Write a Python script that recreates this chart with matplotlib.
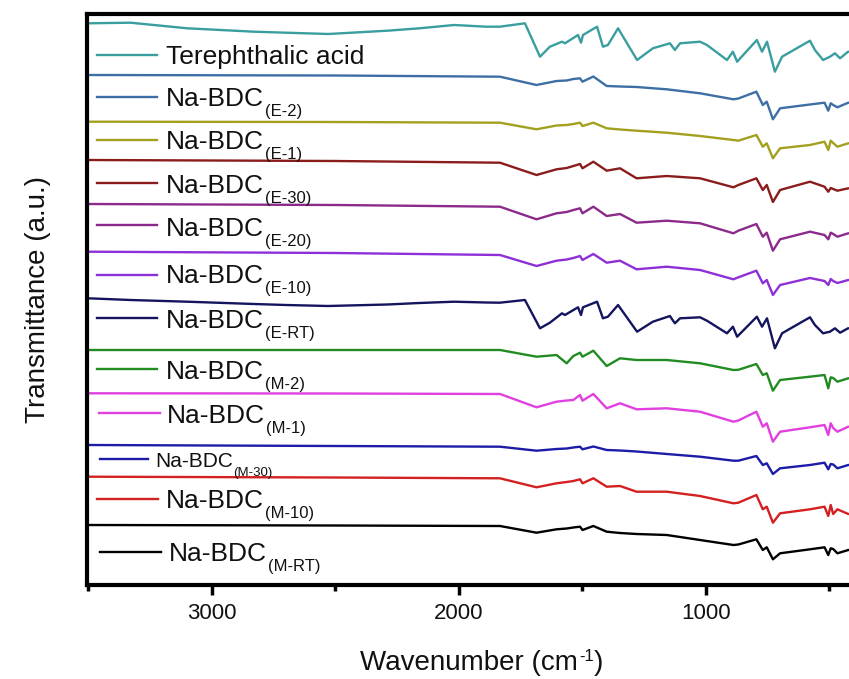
import matplotlib
matplotlib.use('Agg')
import matplotlib.pyplot as plt
from matplotlib.ticker import FixedLocator

plt.rcParams['font.family'] = ['Liberation Sans', 'DejaVu Sans']

# ---------------- data (transmittance, a.u.) ----------------
WN_TPA = [3500, 3330, 3100, 2830, 2700, 2530, 2290, 2160, 2020, 1890,
          1835, 1733, 1672, 1632, 1583, 1571, 1518, 1506, 1498, 1441,
          1417, 1397, 1356, 1279, 1215, 1146, 1126, 1105, 1024, 996,
          915, 891, 874, 794, 773, 753, 721, 692, 579, 559,
          526, 498, 478, 457, 425, 400]

T_TPA = [576.7, 577.3, 571.7, 568.3, 567.3, 566, 569.3, 571.7, 575, 573.3,
         573.3, 576.7, 543.3, 553.3, 558.3, 556.7, 565, 557.3, 565, 573.3,
         553.3, 555, 571.7, 540, 551.7, 556.7, 550, 556.7, 558.3, 555,
         540, 548.3, 538.3, 560, 548.3, 558.3, 528.3, 543.3, 559.3, 550,
         540, 543.3, 546.7, 541.7, 548.3, 548]

T_E_RT = [301.7, 300, 298.3, 296, 295, 294, 295.5, 297, 298.3, 297.5,
          297.3, 300, 271.7, 277.3, 286.7, 285, 292.7, 285, 292.7, 298.3,
          281.7, 283.3, 295, 268.3, 278.3, 284, 276.7, 281.7, 282.7, 279.3,
          266.7, 273.3, 263.3, 283.3, 273.3, 281.7, 251.7, 266.7, 282.7, 275,
          266.7, 268.3, 271.7, 267.3, 271.7, 271.5]

WN_NA = [3500, 2500, 1834, 1686, 1605, 1564, 1537, 1510, 1500, 1456,
         1402, 1348, 1281, 1159, 1024, 889, 869, 796, 770, 754,
         729, 700, 579, 520, 505, 495, 485, 468, 424, 400]

T_E_2 = [525, 524.5, 523.3, 515, 519, 519.5, 521, 521.7, 518.3, 523.5,
         514, 513.5, 513, 510.7, 506.7, 500.7, 501.5, 508.3, 495, 498.3,
         480.7, 491.7, 495.5, 497.3, 489.3, 496.7, 495, 492.7, 497.3, 497]
T_E_1 = [478.3, 478, 477.3, 470.7, 474.5, 475, 476, 477.3, 474, 477.3,
         471.7, 470.5, 469.3, 467.3, 464, 460, 459.3, 465, 453.3, 456.7,
         441.7, 451.7, 455, 458.3, 450, 459.3, 457, 453.3, 456.7, 456.5]
T_E_30 = [440, 439, 437.3, 425, 430.7, 432, 434, 436, 431.7, 438.3,
          429.3, 431.7, 421.7, 424, 421.7, 412.7, 415, 421.7, 410, 415,
          398, 410, 418.3, 413.3, 408.3, 412, 411, 409.3, 411.7, 411.5]
T_E_20 = [396, 395, 393.3, 380.7, 386.7, 388, 390, 391.7, 386.7, 393.3,
          384, 386, 377.3, 379.3, 376.7, 366.7, 369.3, 376, 363.3, 367.3,
          349.3, 360.7, 368.3, 365, 360.7, 367.3, 366, 363.3, 366.7, 366.5]
T_E_10 = [348.3, 347, 345, 334, 339.3, 340.5, 342, 344, 340, 346,
          337.3, 339.3, 330.7, 333.3, 330, 320.7, 322.7, 329.3, 316.7, 320,
          305, 315, 322, 319, 315, 321, 319, 317, 320, 320]
T_M_2 = [250, 250, 250, 243.3, 245, 236.7, 244, 247.3, 243.3, 249.3,
         234, 241.7, 240, 240, 236.7, 230, 230.2, 236, 225, 226.7,
         209.3, 220, 223.3, 225, 211.7, 222.7, 222, 218.3, 221.7, 221.5]
T_M_1 = [206.7, 206.5, 206, 192.7, 198.3, 199.5, 200, 205, 199.3, 206,
         191.7, 196.7, 190.7, 191.7, 188.3, 178.3, 179.5, 188.3, 173.3, 176.7,
         158.3, 168.3, 172.7, 175, 165, 176.7, 172, 168.3, 173.3, 173]
T_M_30 = [155, 154, 153.3, 149.3, 151, 151.5, 152.5, 153.3, 150.7, 153.5,
          150, 149.5, 148.5, 146, 143.3, 139.3, 139.3, 144, 135, 136.7,
          126, 131.7, 135, 137.3, 130.7, 136, 135.5, 131.7, 135, 135]
T_M_10 = [123.3, 122.5, 121.7, 112.7, 116.7, 118, 119, 120.7, 116.7, 121.7,
          113.3, 114, 108.3, 108.3, 104, 96.7, 97.3, 105, 90.7, 93.3,
          77.3, 86.7, 90.7, 93.3, 84, 95, 86, 90.7, 86, 86]
T_M_RT = [75, 74.5, 74, 67.3, 70.7, 71.5, 72.5, 73.3, 70, 74,
          68.3, 67, 66, 65, 60, 55, 55.5, 60.7, 50, 52.7,
          40.7, 46.7, 50.7, 52.7, 45, 51.7, 51, 46.7, 50, 50]

NAMES = ["Terephthalic acid", "Na-BDC", "Na-BDC", "Na-BDC", "Na-BDC", "Na-BDC",
         "Na-BDC", "Na-BDC", "Na-BDC", "Na-BDC", "Na-BDC", "Na-BDC"]
SUBS = ["", "(E-2)", "(E-1)", "(E-30)", "(E-20)", "(E-10)",
        "(E-RT)", "(M-2)", "(M-1)", "(M-30)", "(M-10)", "(M-RT)"]
X_TICKS = [3000, 2000, 1000]
X_MINOR = [3500, 2500, 1500, 500]
XLABEL_PARTS = ["Wavenumber (cm", "-1", ")"]
YLABEL = "Transmittance (a.u.)"

SERIES = [(WN_TPA, T_TPA), (WN_NA, T_E_2), (WN_NA, T_E_1), (WN_NA, T_E_30),
          (WN_NA, T_E_20), (WN_NA, T_E_10), (WN_TPA, T_E_RT), (WN_NA, T_M_2),
          (WN_NA, T_M_1), (WN_NA, T_M_30), (WN_NA, T_M_10), (WN_NA, T_M_RT)]

# ---------------- styles / layout ----------------
COLORS = ['#3a9e9e', '#3d6fa5', '#a3a01f', '#8b1c1c', '#8b2a8b', '#8e2fd8',
          '#14145f', '#228b22', '#e040e0', '#1c1ca8', '#d42020', '#000000']
# label layout in pixel coords: (segment y, segment x0, x1, text x, text baseline y, size, subsize)
LAB = [(55, 97, 157, 166, 64.3, 19, 12),
       (96.7, 97, 157, 166, 106, 19, 12),
       (140, 97, 157, 166, 149.3, 19, 12),
       (182.7, 97, 157, 166, 192.7, 19, 12),
       (225, 97, 157, 166, 236, 19, 12),
       (275, 97, 157, 166, 282.7, 19, 12),
       (318.3, 97, 157, 166, 328.3, 19, 12),
       (369.3, 97, 157, 166, 379.3, 19, 12),
       (413.3, 99, 160, 167, 422.7, 19, 12),
       (459.3, 100, 148, 155, 466.7, 15, 9.5),
       (499.3, 97, 158, 166, 508.3, 19, 12),
       (551.7, 100, 161, 169, 560.7, 19, 12)]

W, H = 849, 679
AX_L, AX_R, AX_T, AX_B = 87, 849, 14, 585
TXT = '#111111'

fig = plt.figure(figsize=(W / 100, H / 100), dpi=100)
ax = fig.add_axes([AX_L / W, 1 - AX_B / H, (AX_R - AX_L) / W, (AX_B - AX_T) / H])

for (wn, t), c in zip(SERIES, COLORS):
    ax.plot(wn, t, color=c, lw=1.7, solid_joinstyle='round')

ax.set_xlim(3506, 421)
ax.set_ylim(15, 586)


def fx(px):
    return (px - AX_L) / (AX_R - AX_L)


def fy(py):
    return (AX_B - py) / (AX_B - AX_T)


for (ly, x0, x1, tx, by, fs, sfs), name, sub, c in zip(LAB, NAMES, SUBS, COLORS):
    ax.plot([fx(x0), fx(x1)], [fy(ly), fy(ly)], transform=ax.transAxes,
            color=c, lw=1.7, clip_on=False)
    t = ax.text(fx(tx), fy(by), name, transform=ax.transAxes, fontsize=fs,
                va='baseline', ha='left', color=TXT)
    if sub:
        ax.annotate(sub, xy=(1, 0), xycoords=t, xytext=(0.5, -3.5),
                    textcoords='offset points', fontsize=sfs,
                    va='baseline', ha='left', color=TXT)

ax.xaxis.set_major_locator(FixedLocator(X_TICKS))
ax.xaxis.set_minor_locator(FixedLocator(X_MINOR))
ax.tick_params(axis='x', which='major', direction='out', length=7, width=2.5,
               labelsize=16, pad=6, labelcolor=TXT)
ax.tick_params(axis='x', which='minor', direction='out', length=4.5, width=2.5)
ax.set_yticks([])

for s in ['left', 'top', 'bottom']:
    ax.spines[s].set_linewidth(3)
ax.spines['right'].set_visible(False)

ax.set_ylabel(YLABEL, fontsize=20, labelpad=26, color=TXT)

# x label built from pieces so the superscript keeps a plain hyphen
xl_main = fig.text(0, 1 - 670 / H, XLABEL_PARTS[0], fontsize=20, va='baseline',
                   ha='left', color=TXT)
xl_sup = fig.text(0, 0, XLABEL_PARTS[1], fontsize=12, color=TXT)
xl_sup.remove()
xl_sup = ax.annotate(XLABEL_PARTS[1], xy=(1, 1), xycoords=xl_main,
                     xytext=(0.5, 0.5), textcoords='offset points', fontsize=12,
                     va='top', ha='left', color=TXT)
xl_close = ax.annotate(XLABEL_PARTS[2], xy=(1, 0), xycoords=(xl_sup, xl_main),
                       xytext=(0.3, 0), textcoords='offset points', fontsize=20,
                       va='bottom', ha='left', color=TXT)
fig.canvas.draw()
r = fig.canvas.get_renderer()
b0 = xl_main.get_window_extent(r)
b2 = xl_close.get_window_extent(r)
total = b2.x1 - b0.x0
center_px = (AX_L + AX_R) / 2 + 14
xl_main.set_x((center_px - total / 2) / W)

fig.savefig('out.png', dpi=100)
